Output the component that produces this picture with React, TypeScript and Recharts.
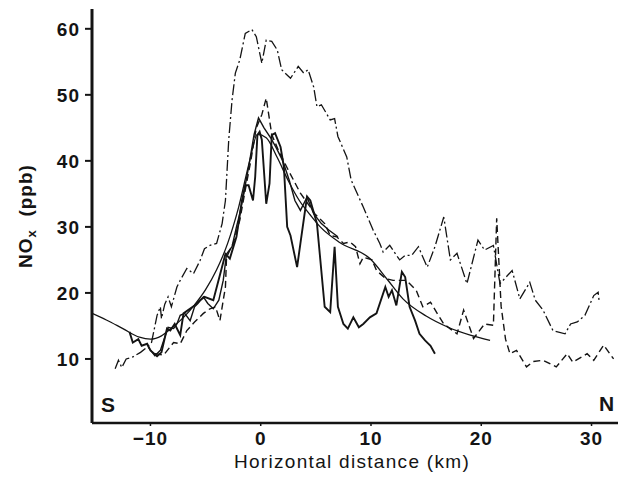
import { LineChart, Line, XAxis, YAxis } from "recharts";

// dash-dot upper trace
const P1_X = [-13.2, -12.9, -12.6, -12.2, -11.6, -10.9, -10.3, -9.9, -9.4, -9.1, -9.0, -8.7, -8.4, -8.1, -7.6, -7.3, -6.7, -6.1, -5.5, -5.1, -4.6, -4.0, -3.5, -3.2, -2.9, -2.6, -2.3, -1.9, -1.4, -0.8, -0.4, 0.1, 0.5, 1.0, 1.5, 1.9, 2.7, 3.4, 3.9, 4.3, 4.8, 5.1, 5.5, 6.3, 6.7, 7.0, 7.8, 8.2, 9.3, 10.2, 10.8, 11.1, 11.7, 12.6, 13.1, 13.7, 14.3, 15.1, 15.8, 16.6, 17.2, 17.8, 18.7, 19.7, 20.3, 21.1, 21.7, 22.8, 23.5, 24.4, 24.9, 25.6, 26.5, 27.6, 28.1, 28.7, 29.4, 30.2, 30.6, 30.7];
const P1_Y = [8.5, 9.8, 8.7, 10, 10.3, 11, 11.8, 12.5, 16.6, 17.9, 16.1, 18.3, 19.4, 17.9, 20.9, 21.9, 23.7, 22.9, 24.9, 26.7, 27.2, 27.5, 30.5, 34, 43.2, 49.2, 53.3, 55.3, 59.3, 59.9, 58.8, 54.8, 58.3, 58.1, 56.8, 53.8, 52.5, 54.3, 53.3, 53.8, 51.2, 48.2, 48.5, 46.2, 46.4, 43.7, 40.6, 37.1, 33, 29.5, 27.5, 26.2, 27.2, 25, 25.7, 25.7, 27, 23.9, 27, 31.5, 25, 26, 21.4, 28, 26.5, 27.2, 21.4, 23.4, 19.1, 21.6, 18.9, 17.4, 14.3, 13.8, 15.3, 15.6, 16.6, 19.6, 20.1, 18.6];

// medium dashed trace
const P2_X = [-9.6, -8.8, -7.9, -7.3, -6.7, -6.0, -5.2, -4.6, -4.1, -3.7, -3.2, -3.1, -2.5, -1.9, -1.4, -0.9, -0.4, 0.1, 0.5, 1.0, 1.6, 2.5, 3.6, 4.5, 4.9, 5.8, 6.3, 6.9, 7.5, 8.1, 8.6, 9.0, 9.3, 10.1, 10.5, 11.3, 12.0, 13.2, 14.1, 14.7, 15.4, 16.0, 16.6, 17.8, 18.4, 19.3, 20.3, 21.1, 21.4, 21.8, 22.2, 22.6, 23.2, 24.1, 24.7, 25.6, 26.8, 27.8, 28.3, 29.6, 30.2, 31.1, 32.0];
const P2_Y = [10.8, 10.6, 12.5, 12.3, 14.3, 15.6, 16.9, 17.6, 17.9, 15.8, 20.9, 25.4, 27.5, 31, 35.6, 40, 45, 47, 49.5, 44, 41.6, 38.6, 35.1, 33, 32, 30.5, 28.7, 28.5, 27.5, 27.7, 27, 24.4, 25.4, 25, 23.4, 22.2, 21.9, 21.9, 20.4, 17.9, 18.6, 16.9, 15.3, 13.8, 17.4, 13.1, 15.3, 15.1, 31.3, 18, 13, 10.8, 11.3, 8.8, 9.6, 9.8, 8.8, 10.8, 9.5, 10.8, 9.8, 12.1, 10];

// heavy solid trace
const S1_X = [-11.9, -11.6, -11.1, -10.8, -10.3, -10.0, -9.4, -9.0, -8.5, -8.2, -7.8, -7.3, -7.0, -6.0, -5.5, -5.1, -4.3, -3.2, -2.8, -2.2, -1.7, -1.4, -1.1, -0.7, -0.5, -0.3, -0.1, 0.1, 0.5, 0.8, 1.0, 1.3, 1.8, 2.1, 2.4, 2.7, 3.3, 3.6, 4.2, 4.5, 5.1, 5.8, 6.3, 6.7, 7.0, 7.5, 7.9, 8.4, 8.9, 9.3, 9.9, 10.5, 11.3, 11.6, 11.9, 12.3, 12.8, 13.1, 13.5, 14.0, 14.4, 14.9, 15.4, 15.8];
const S1_Y = [14.1, 12.5, 13, 12, 12.3, 11.3, 10.4, 11, 14.6, 14.3, 15.3, 13.6, 16.9, 18.1, 18.9, 19.4, 18.9, 25.9, 25.2, 28.5, 34, 36.3, 36.3, 34, 37.6, 43.9, 44.4, 43.2, 33.5, 36.6, 43.9, 44.2, 42.1, 39.1, 30, 28.7, 23.9, 27.5, 34.6, 34, 30.5, 17.9, 17.1, 27, 17.9, 15.3, 14.6, 16.3, 14.8, 15.3, 16.3, 16.9, 20.9, 19.4, 20.4, 18.1, 23.2, 22.4, 17.9, 15.8, 13.8, 12.8, 12, 10.8];

// thin solid trace
const S2_X = [-10.2, -9.6, -9.1, -8.7, -8.4, -7.9, -7.6, -7.3, -6.9, -6.4, -6.0, -5.7, -5.2, -4.8, -4.3, -3.8, -3.4, -3.1, -2.6, -2.2, -1.9, -1.6, -1.1, -0.6, -0.2, 0.3, 0.9, 1.4, 2.0, 2.6, 3.1, 3.6, 4.2, 4.8, 5.5, 6.2, 7.0];
const S2_Y = [11.8, 10.5, 11.3, 13.3, 14.8, 14.6, 15.3, 16.6, 16.9, 15.8, 17.9, 18.4, 19.4, 18.4, 17.6, 18.9, 21.9, 25.9, 27, 30, 32, 34.6, 39, 44, 46.5, 45, 43.5, 42, 40, 37, 34, 32.5, 34.5, 32, 30.5, 29.5, 28.5];

// smooth model curve
const FIT_X = [-15.3, -14, -12.5, -11, -10, -9, -8, -7, -6, -5, -4, -3, -2, -1, -0.3, 0.5, 1.5, 2.5, 3.5, 4.5, 5.4, 7.2, 9.9, 11.5, 12.9, 15, 17, 19, 20.8];
const FIT_Y = [16.9, 15.9, 14.6, 13.3, 13, 13.5, 14.8, 16.3, 18.2, 20.5, 23.5, 27.5, 33, 40, 44, 43.5, 40.5, 37, 34, 31.8, 30, 27.6, 25.2, 22, 19.1, 16.5, 14.8, 13.6, 12.8];

const X_TICKS = [-10, 0, 10, 20, 30];
const Y_TICKS = [10, 20, 30, 40, 50, 60];

const toPoints = (xs: number[], ys: number[]) => xs.map((x, i) => ({ x, y: ys[i] }));

const INK = "#141414";
const FONT = "'Liberation Sans', Arial, sans-serif";
const X_DOMAIN: [number, number] = [-15.3, 32.4];
const Y_DOMAIN: [number, number] = [0.3, 63];

const tickStyle = { fontSize: 19, fill: INK, fontFamily: FONT, fontWeight: 700, letterSpacing: 1 };

export default function App() {
  return (
    <div style={{ position: "absolute", left: 0, top: 0, width: 621, height: 491, background: "#fff", fontFamily: FONT, color: INK }}>
      <LineChart width={621} height={491} margin={{ top: 9, right: 3, bottom: 28, left: 20 }}>
        <XAxis
          xAxisId="b"
          dataKey="x"
          type="number"
          domain={X_DOMAIN}
          ticks={X_TICKS}
          allowDataOverflow
          height={40}
          tickSize={3}
          tickMargin={6}
          axisLine={{ stroke: INK, strokeWidth: 2.5 }}
          tickLine={{ stroke: INK, strokeWidth: 1.5 }}
          tick={tickStyle}
          tickFormatter={(v: number) => (v < 0 ? `\u2212${Math.abs(v)}` : `${v}`)}
        />
        <XAxis
          xAxisId="t"
          orientation="top"
          dataKey="x"
          type="number"
          domain={X_DOMAIN}
          allowDataOverflow
          height={0}
          tick={false}
          tickLine={false}
          axisLine={{ stroke: INK, strokeWidth: 2.5 }}
        />
        <YAxis
          yAxisId="l"
          type="number"
          domain={Y_DOMAIN}
          ticks={Y_TICKS}
          allowDataOverflow
          width={72}
          tickSize={7}
          tickMargin={5}
          axisLine={{ stroke: INK, strokeWidth: 3 }}
          tickLine={{ stroke: INK, strokeWidth: 2 }}
          tick={tickStyle}
        />
        <YAxis
          yAxisId="r"
          orientation="right"
          type="number"
          domain={Y_DOMAIN}
          allowDataOverflow
          width={0}
          tick={false}
          tickLine={false}
          axisLine={{ stroke: INK, strokeWidth: 3 }}
        />
        <Line xAxisId="b" yAxisId="l" data={toPoints(FIT_X, FIT_Y)} dataKey="y" type="monotone" stroke={INK} strokeWidth={1.3} dot={false} isAnimationActive={false} />
        <Line xAxisId="b" yAxisId="l" data={toPoints(S2_X, S2_Y)} dataKey="y" type="linear" stroke={INK} strokeWidth={1.4} dot={false} isAnimationActive={false} />
        <Line xAxisId="b" yAxisId="l" data={toPoints(S1_X, S1_Y)} dataKey="y" type="linear" stroke={INK} strokeWidth={1.9} dot={false} isAnimationActive={false} />
        <Line xAxisId="b" yAxisId="l" data={toPoints(P2_X, P2_Y)} dataKey="y" type="linear" stroke={INK} strokeWidth={1.4} strokeDasharray="7 4" dot={false} isAnimationActive={false} />
        <Line xAxisId="b" yAxisId="l" data={toPoints(P1_X, P1_Y)} dataKey="y" type="linear" stroke={INK} strokeWidth={1.3} strokeDasharray="11 3 2 3" dot={false} isAnimationActive={false} />
      </LineChart>

      <div style={{ position: "absolute", left: 27, top: 216, transform: "translate(-50%, -50%) rotate(-90deg)", whiteSpace: "nowrap", fontSize: 19, fontWeight: 700, letterSpacing: 1, lineHeight: 1 }}>
        NO<span style={{ fontSize: 13, verticalAlign: "-4px" }}>x</span>
        {"\u00a0\u00a0(ppb)"}
      </div>
      <div style={{ position: "absolute", left: 352, top: 452, transform: "translateX(-50%)", whiteSpace: "nowrap", fontSize: 19, letterSpacing: 1.3, lineHeight: 1 }}>
        Horizontal distance (km)
      </div>
      <div style={{ position: "absolute", left: 101, top: 394, fontSize: 21, fontWeight: 700, lineHeight: 1 }}>S</div>
      <div style={{ position: "absolute", left: 599, top: 393, fontSize: 21, fontWeight: 700, lineHeight: 1 }}>N</div>
    </div>
  );
}
